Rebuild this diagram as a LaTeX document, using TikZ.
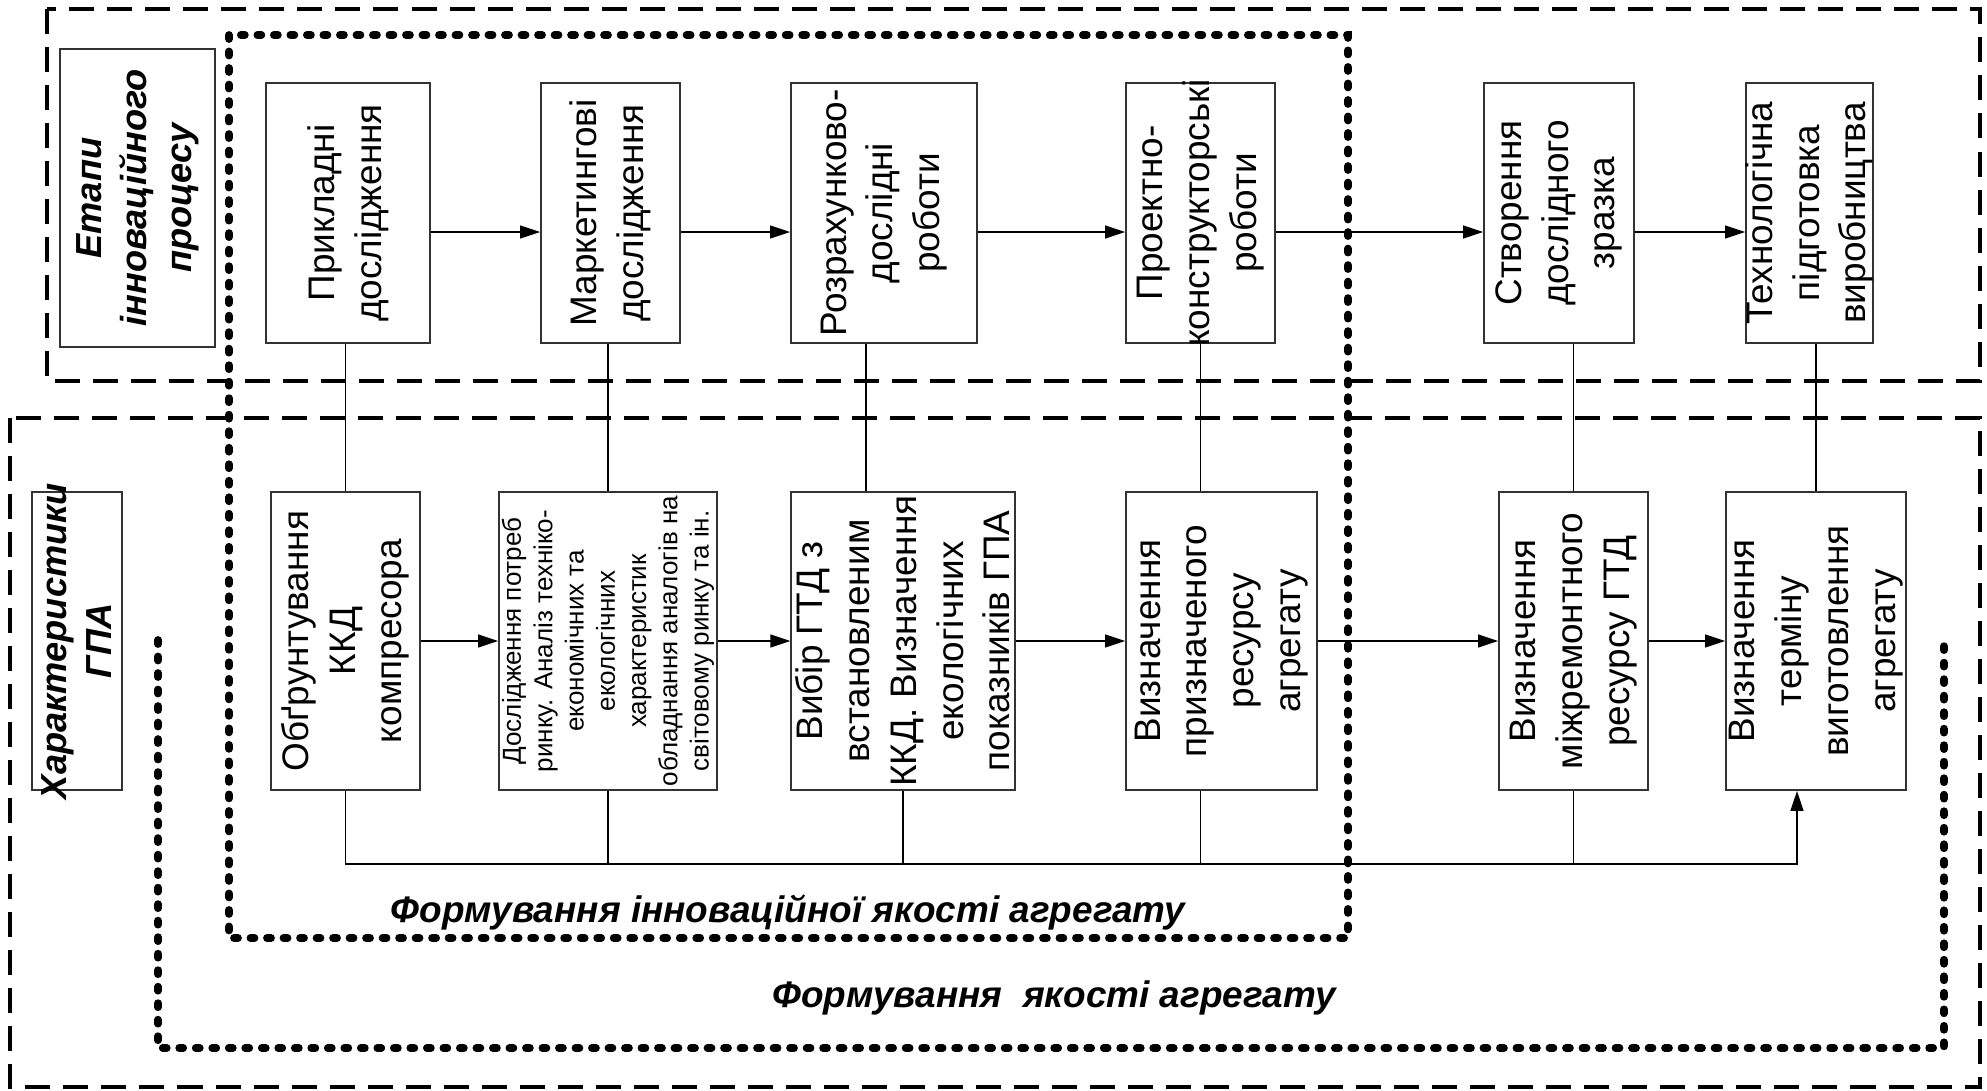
\documentclass[tikz,border=0pt]{standalone}
\usepackage{fontspec}
\setmainfont{Liberation Sans}
\usepackage{tikz}
\usetikzlibrary{arrows.meta}

\begin{document}
\begin{tikzpicture}[x=0.01cm, y=-0.01cm,
    stage/.style={draw=black!80, line width=0.5pt, inner sep=0pt, fill=white},
    stagetext/.style={rotate=90, align=center, font=\fontsize{10.5}{13.3}\selectfont},
    smalltext/.style={rotate=90, align=center, font=\fontsize{7.4}{8.9}\selectfont},
    titletext/.style={rotate=90, align=center, font=\bfseries\itshape\fontsize{10.3}{12.8}\selectfont},
    flow/.style={-{Triangle[length=0.2cm,width=0.13cm]}, line width=0.4pt},
    link/.style={line width=0.4pt},
    zone/.style={line width=1.1pt, dash pattern=on 0.25cm off 0.13cm},
    quality/.style={line width=2.2pt, dash pattern=on 0.04cm off 0.125cm, line cap=round},
    caption/.style={font=\bfseries\itshape\fontsize{10.5}{12}\selectfont, anchor=base}
]
    \useasboundingbox (0,0) rectangle (1987,1091);

    % Рамки
    \draw[zone] (47,9) rectangle (1980,381); % етапи
    \draw[zone] (10,418) rectangle (1980,1087); % характеристики
    \draw[quality] (229,35) rectangle (1348,938); % інноваційна якість
    \draw[quality] (158,640) -- (158,1048) -- (1944,1048) -- (1944,640); % якість

    % Заголовки рядків
    \node[stage, minimum width=1.55cm, minimum height=2.98cm, label={[titletext]center:{Етапи\\інноваційного\\процесу}}] (etapy) at (137.5,198) {};
    \node[stage, minimum width=0.9cm, minimum height=2.98cm, label={[titletext]center:{Характеристики\\ГПА}}] (gpa) at (77,641) {};

    % Етапи інноваційного процесу
    \node[stage, minimum width=1.64cm, minimum height=2.6cm, label={[stagetext]center:{Прикладні\\дослідження}}] (pd) at (348,213) {};
    \node[stage, minimum width=1.39cm, minimum height=2.6cm, label={[stagetext]center:{Маркетингові\\дослідження}}] (mk) at (610.5,213) {};
    \node[stage, minimum width=1.86cm, minimum height=2.6cm, label={[stagetext]center:{Розрахунково-\\дослідні\\роботи}}] (rd) at (884,213) {};
    \node[stage, minimum width=1.49cm, minimum height=2.6cm, label={[stagetext]center:{Проектно-\\конструкторські\\роботи}}] (pk) at (1200.5,213) {};
    \node[stage, minimum width=1.5cm, minimum height=2.6cm, label={[stagetext]center:{Створення\\дослідного\\зразка}}] (st) at (1559,213) {};
    \node[stage, minimum width=1.27cm, minimum height=2.6cm, label={[stagetext]center:{Технологічна\\підготовка\\виробництва}}] (tp) at (1809.5,213) {};

    % Характеристики ГПА
    \node[stage, minimum width=1.49cm, minimum height=2.98cm, label={[stagetext]center:{Обґрунтування\\ККД\\компресора}}] (ob) at (345.5,641) {};
    \node[stage, minimum width=2.18cm, minimum height=2.98cm, label={[smalltext]center:{Дослідження потреб\\ринку. Аналіз техніко-\\економічних та\\екологічних\\характеристик\\обладнання аналогів на\\світовому ринку та ін.}}] (dp) at (608,641) {};
    \node[stage, minimum width=2.235cm, minimum height=2.98cm, label={[stagetext]center:{Вибір ГТД з\\встановленим\\ККД. Визначення\\екологічних\\показників ГПА}}] (vg) at (903,641) {};
    \node[stage, minimum width=1.91cm, minimum height=2.98cm, label={[stagetext]center:{Визначення\\призначеного\\ресурсу\\агрегату}}] (vp) at (1221.5,641) {};
    \node[stage, minimum width=1.49cm, minimum height=2.98cm, label={[stagetext]center:{Визначення\\міжремонтного\\ресурсу ГТД}}] (mr) at (1573.5,641) {};
    \node[stage, minimum width=1.8cm, minimum height=2.98cm, label={[stagetext]center:{Визначення\\терміну\\виготовлення\\агрегату}}] (tv) at (1816,641) {};

    % Стрілки між етапами
    \foreach \a/\b in {pd/mk, mk/rd, rd/pk, pk/st, st/tp}
        \draw[flow] ([yshift=-0.19cm]\a.east) -- ([yshift=-0.19cm]\a.east -| \b.west);
    \foreach \a/\b in {ob/dp, dp/vg, vg/vp, vp/mr, mr/tv}
        \draw[flow] (\a) -- (\b);

    % Зв'язки етапів і характеристик
    \draw[link] (ob.north) -- (ob.north |- pd.south);
    \draw[link] (dp.north) -- (dp.north |- mk.south);
    \draw[link] ([xshift=-0.18cm]rd.south) -- ([xshift=-0.18cm]rd.south |- vg.north);
    \draw[link] (pk.south) -- (pk.south |- vp.north);
    \draw[link] (mr.north) -- (mr.north |- st.south);
    \draw[link] (tv.north) -- (tv.north |- tp.south);

    % Нижня шина
    \coordinate (bus) at (0,864);
    \draw[flow] (ob.south) -- (ob.south |- bus) -| ([xshift=-0.19cm]tv.south);
    \foreach \n in {dp, vg, mr}
        \draw[link] (\n.south) -- (\n.south |- bus);
    \draw[link] (pk |- vp.south) -- (pk |- bus);

    % Підписи
    \node[caption] (lbinnov) at (788,922) {Формування інноваційної якості агрегату};
    \node[caption] (lbqual) at (1054,1007) {Формування~~якості агрегату};
\end{tikzpicture}
\end{document}
